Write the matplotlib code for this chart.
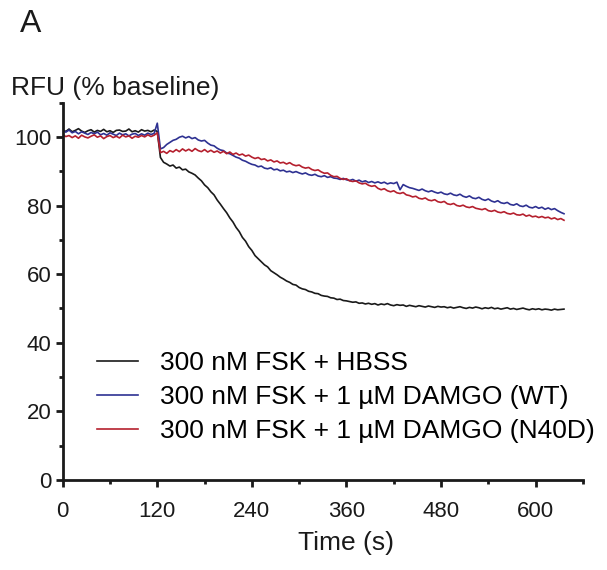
import numpy as np
import matplotlib
matplotlib.use("Agg")
import matplotlib.pyplot as plt
from matplotlib.ticker import MultipleLocator

plt.rcParams['font.family'] = ['Liberation Sans', 'DejaVu Sans']

# =============================
# Data (one point every 4 s)
# =============================
time_s = np.arange(0, 640, 4)

hbss = [
    102.0, 101.6, 102.3, 101.5, 101.9, 102.4, 101.7, 101.3, 101.8, 102.1,
    101.4, 101.9, 101.6, 102.2, 101.5, 101.8, 101.3, 101.9, 102.0, 101.6,
    101.7, 102.3, 101.5, 101.8, 101.4, 102.1, 101.7, 101.9, 101.5, 102.0,
    101.6, 94.0, 92.6, 92.1, 91.5, 91.8, 90.9, 91.2, 90.4, 90.6,
    89.8, 89.4, 88.9, 88.0, 87.2, 86.0, 85.2, 84.0, 83.1, 81.6,
    80.4, 79.1, 77.9, 76.4, 75.2, 73.6, 72.4, 70.7, 69.6, 68.0,
    66.9, 65.4, 64.5, 63.6, 62.7, 62.1, 61.0, 60.4, 59.8, 59.1,
    58.6, 58.0, 57.6, 57.0, 56.8, 56.1, 55.7, 55.5, 55.0, 54.8,
    54.4, 54.3, 53.8, 53.6, 53.5, 53.1, 53.0, 52.6, 52.7, 52.3,
    52.2, 52.0, 51.8, 51.9, 51.5, 51.6, 51.3, 51.5, 51.2, 51.4,
    51.0, 51.3, 51.1, 51.4, 51.0, 50.8, 51.1, 50.9, 51.0, 50.6,
    50.9, 50.7, 50.5, 50.8, 50.6, 50.4, 50.7, 50.5, 50.3, 50.6,
    50.4, 50.5, 50.2, 50.4, 50.1, 50.3, 50.5, 50.2, 50.0, 50.3,
    50.1, 50.4, 50.2, 49.9, 50.2, 50.0, 50.3, 49.9, 50.1, 49.8,
    50.0, 50.2, 49.8, 50.0, 49.7, 49.9, 50.1, 49.8, 49.6, 49.9,
    49.7, 49.9, 49.6, 49.8, 49.7, 49.5, 49.8, 49.6, 49.7, 49.8,
]

damgo_wt = [
    101.9, 101.4, 102.0, 101.2, 101.6, 100.9, 101.5, 101.1, 100.7, 101.3,
    100.9, 101.4, 100.6, 101.0, 100.5, 101.2, 100.8, 100.4, 101.1, 100.6,
    100.9, 100.3, 100.8, 101.0, 100.4, 100.9, 100.5, 101.1, 100.7, 101.0,
    104.0, 96.5, 96.9, 97.8, 98.4, 99.0, 99.3, 99.9, 100.2, 99.7,
    100.1, 99.5, 99.8, 99.1, 98.8, 99.0, 98.2, 97.6, 97.4, 96.7,
    96.2, 96.0, 95.3, 95.1, 94.6, 94.1, 93.8, 93.2, 92.9, 92.4,
    92.0, 91.8, 91.3, 91.5, 90.9, 90.7, 91.0, 90.4, 90.6, 90.1,
    90.3, 89.8, 90.0, 89.6, 89.9, 89.5, 89.2, 89.5, 89.0, 88.8,
    89.1, 88.6, 88.4, 88.7, 88.2, 88.4, 88.0, 87.9, 87.6, 87.9,
    87.5, 87.3, 87.6, 87.1, 87.4, 86.9, 87.2, 86.7, 87.0, 86.6,
    86.9, 86.5, 86.8, 86.3, 86.6, 86.4, 86.8, 84.6, 86.1, 85.6,
    85.2, 85.0, 84.7, 84.4, 84.8, 84.3, 84.0, 84.3, 83.9, 83.6,
    83.9, 83.4, 83.2, 83.6, 83.1, 82.9, 83.3, 82.7, 82.4, 82.8,
    82.2, 82.0, 82.4, 81.8, 81.5, 81.9, 81.3, 81.0, 81.4, 80.8,
    80.6, 80.9, 80.3, 80.1, 80.5, 79.9, 79.7, 80.1, 79.5, 79.3,
    79.7, 79.2, 79.5, 78.9, 79.3, 78.8, 79.1, 78.5, 78.0, 77.6,
]

damgo_n40d = [
    100.6, 100.1, 100.4, 99.8, 100.3, 99.6, 100.5, 100.0, 99.7, 100.2,
    100.6, 99.9, 100.3, 99.5, 100.1, 100.4, 99.8, 100.2, 99.7, 100.5,
    100.0, 100.3, 99.6, 100.2, 99.9, 100.4, 100.0, 100.6, 100.1, 100.5,
    101.2, 95.4, 95.8, 95.2, 96.0, 95.6, 96.3, 95.7, 96.5, 95.9,
    96.4, 95.8, 96.6, 96.0, 95.7, 96.3, 95.6, 96.1, 95.5, 95.9,
    95.3, 95.8, 95.1, 95.6, 94.9, 95.3, 94.7, 95.0, 94.4, 94.7,
    94.1, 93.7, 94.0, 93.4, 93.6, 93.0, 93.3, 92.7, 93.0, 92.4,
    92.6, 92.1, 92.5, 91.9, 91.6, 91.8, 91.2, 90.9, 91.1, 90.5,
    90.2, 90.4, 89.8, 89.4, 89.5, 88.8, 88.4, 88.5, 87.9, 87.6,
    87.8, 87.2, 87.0, 87.2, 86.6, 86.3, 86.5, 85.9, 85.6, 85.8,
    85.0, 84.6, 84.9, 84.3, 84.0, 84.3, 83.7, 83.5, 83.8, 83.1,
    82.9, 82.5, 82.7, 82.1, 81.9, 82.2, 81.6, 81.4, 81.7, 81.1,
    80.9, 81.2, 80.5, 80.3, 80.6, 80.0, 79.8, 80.1, 79.6, 79.4,
    79.7, 79.2, 79.0, 78.8, 79.1, 78.5, 78.3, 78.6, 78.1, 77.9,
    78.2, 77.7, 77.5, 77.8, 77.3, 77.2, 77.5, 76.9, 77.2, 76.7,
    76.9, 76.5, 76.8, 76.4, 76.6, 76.1, 76.4, 75.9, 76.2, 75.7,
]

labels = [
    "300 nM FSK + HBSS",
    "300 nM FSK + 1 \u00b5M DAMGO (WT)",
    "300 nM FSK + 1 \u00b5M DAMGO (N40D)",
]
colors = ["#1a1a1a", "#2e3192", "#b5202e"]

# =============================
# Plot
# =============================
fig = plt.figure(figsize=(6.07, 5.7), dpi=100)
ax = fig.add_axes([0.1033, 0.158, 0.857, 0.662])

for y, lab, c in zip([hbss, damgo_wt, damgo_n40d], labels, colors):
    ax.plot(time_s, y, color=c, lw=1.2, label=lab)

ax.set_xlim(0, 660)
ax.set_ylim(0, 110)
ax.xaxis.set_major_locator(MultipleLocator(120))
ax.xaxis.set_minor_locator(MultipleLocator(60))
ax.yaxis.set_major_locator(MultipleLocator(20))
ax.yaxis.set_minor_locator(MultipleLocator(10))

for side in ["top", "right"]:
    ax.spines[side].set_visible(False)
for side in ["left", "bottom"]:
    ax.spines[side].set_linewidth(2.0)
    ax.spines[side].set_color("#1a1a1a")

ax.tick_params(which="major", length=5, width=2.0, labelsize=16, color="#1a1a1a",
               labelcolor="#1a1a1a", pad=3)
ax.tick_params(which="minor", length=3, width=2.0, color="#1a1a1a")
ax.tick_params(axis="x", pad=10)

# axis titles
fig.text(346 / 607, 1 - 543 / 570, "Time (s)", fontsize=19, color="#1a1a1a",
         ha="center", va="center")
fig.text(0.018, 1 - 95 / 570, "RFU (% baseline)", fontsize=19, color="#1a1a1a",
         va="baseline")
fig.text(0.033, 1 - 32 / 570, "A", fontsize=23, color="#1a1a1a", va="baseline")

ax.legend(loc="center left", bbox_to_anchor=(97 / 607, 1 - 397 / 570),
          bbox_transform=fig.transFigure, frameon=False, fontsize=19,
          handlelength=1.55, handletextpad=0.85, labelspacing=0.38,
          borderpad=0, borderaxespad=0)

fig.savefig("out.png", dpi=100)
